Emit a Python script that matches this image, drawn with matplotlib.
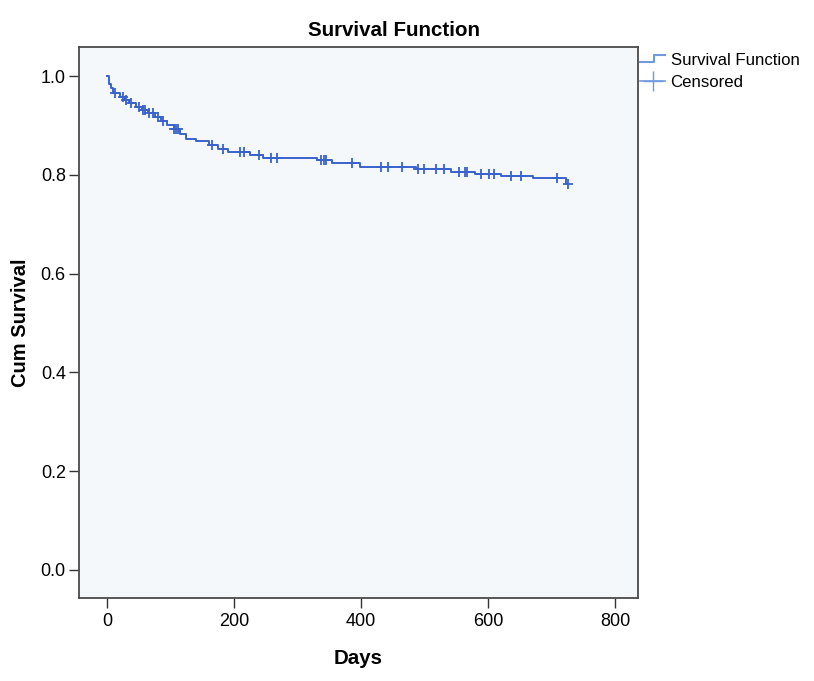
import numpy as np
import matplotlib.pyplot as plt
from matplotlib.lines import Line2D
from matplotlib.legend_handler import HandlerBase

plt.rcParams['font.family'] = ['Liberation Sans', 'DejaVu Sans']

# event times (days) and survival after each event
event_days = [0, 3, 6, 10, 20, 28, 35, 45, 55, 65, 75, 85, 95, 105, 115, 125,
              140, 160, 175, 190, 225, 245, 330, 354, 398, 486, 541, 580, 620, 670, 722]
surv = [1.0, 0.985, 0.975, 0.966, 0.958, 0.952, 0.945, 0.938, 0.932, 0.926, 0.918,
        0.910, 0.900, 0.892, 0.883, 0.873, 0.868, 0.860, 0.852, 0.846, 0.840, 0.835,
        0.830, 0.825, 0.816, 0.812, 0.806, 0.801, 0.797, 0.794, 0.782]
censored_days = [12, 25, 30, 38, 50, 57, 60, 67, 72, 80, 88, 106, 109, 112, 165, 182,
                 210, 215, 240, 258, 268, 337, 342, 345, 386, 431, 443, 465, 489, 499,
                 518, 530, 554, 563, 567, 588, 601, 609, 636, 651, 709, 725]

line_color = '#3a62cc'
bg = '#f5f8fa'

event_days = np.array(event_days)
surv = np.array(surv)
censored_days = np.array(censored_days)
idx = np.searchsorted(event_days, censored_days, side='right') - 1
cens_surv = surv[idx]


class StepHandler(HandlerBase):
    def create_artists(self, legend, orig, xd, yd, w, h, fontsize, trans):
        xs = [xd, xd + w * 0.55, xd + w * 0.55, xd + w]
        ys = [yd + h * 0.2, yd + h * 0.2, yd + h * 0.8, yd + h * 0.8]
        ln = Line2D(xs, ys, color='#6f9ae0', lw=1.5, transform=trans)
        return [ln]


fig = plt.figure(figsize=(8.14, 6.81), dpi=100)
ax = fig.add_axes([0.097, 0.122, 0.687, 0.809])
ax.set_facecolor(bg)

ax.step(np.append(event_days, censored_days[-1]), np.append(surv, surv[-1]),
        where='post', color=line_color, lw=1.4)
ax.plot(censored_days, cens_surv, '+', color=line_color, ms=7, mew=1.3)

ax.set_xlim(-44, 836)
ax.set_ylim(-0.057, 1.059)
ax.set_xticks([0, 200, 400, 600, 800])
ax.set_yticks([0.0, 0.2, 0.4, 0.6, 0.8, 1.0])
ax.set_yticklabels(['0.0', '0.2', '0.4', '0.6', '0.8', '1.0'])
ax.tick_params(labelsize=13, length=7.5, width=1, color='#333333', pad=2)
ax.tick_params(axis='x', pad=3)
for s in ax.spines.values():
    s.set_color('#4a4a4a')
    s.set_linewidth(1.3)

fig.text(394 / 814, 1 - 30 / 681, 'Survival Function', fontsize=14.8,
         fontweight='bold', ha='center', va='center')
ax.set_xlabel('Days', fontsize=14.8, fontweight='bold', labelpad=14)
ax.set_ylabel('Cum Survival', fontsize=14.5, fontweight='bold', labelpad=8)

h1 = Line2D([], [], color='#6f9ae0')
h2 = Line2D([], [], color='#6f9ae0', marker='+', ls='-', ms=14, lw=1.2)
fig.legend([h1, h2], ['Survival Function', 'Censored'],
           handler_map={h1: StepHandler()},
           loc='upper left', bbox_to_anchor=(0.768, 0.945), frameon=False,
           fontsize=12.1, handlelength=1.5, handletextpad=0.3, labelspacing=0.45)

fig.savefig('out.png', dpi=100, facecolor='white')
